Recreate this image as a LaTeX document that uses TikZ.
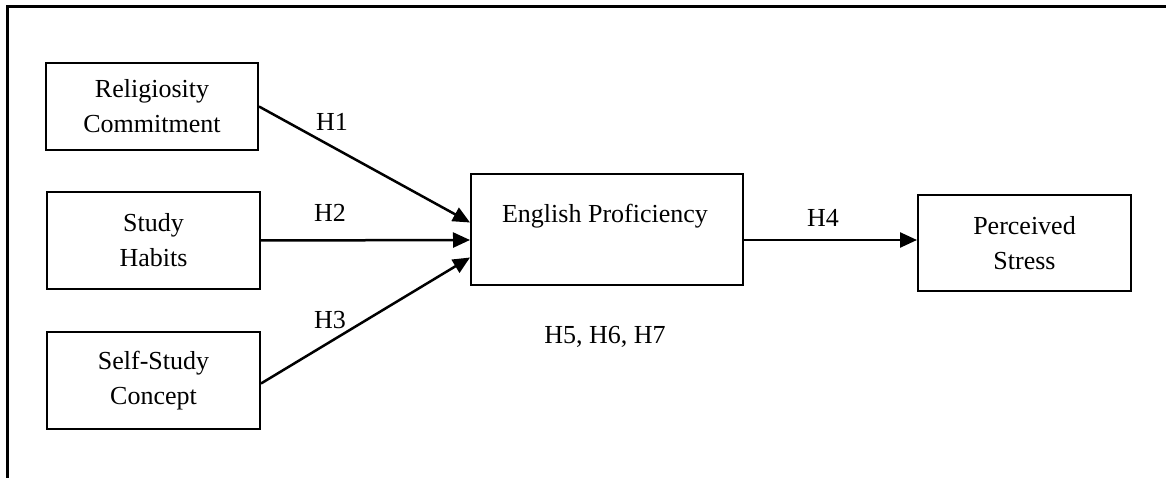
\documentclass[tikz,border=0pt]{standalone}
\usepackage{fontspec}
\setmainfont{Liberation Serif}
\usetikzlibrary{arrows.meta,calc}
\begin{document}
\begin{tikzpicture}[x=1pt,y=-1pt,
  box/.style={draw, line width=2pt, inner sep=0pt, align=center, font=\fontsize{26}{35}\selectfont},
  lbl/.style={inner sep=0pt, font=\fontsize{26}{35}\selectfont},
  conn/.style={line width=2.5pt, -{Triangle[length=17pt,width=15pt]}},
  frameline/.style={line width=3pt}]
\useasboundingbox (0,0) rectangle (1166,478);
\coordinate (ftop) at (1166,6.5);
\coordinate (fcorner) at (7,6.5);
\coordinate (fbot) at (7,478);
\draw[frameline] (ftop) -- (fcorner) -- (fbot);
\node[box, minimum width=212, minimum height=87] (rc) at (152,106.5) {Religiosity\\Commitment};
\node[box, minimum width=213, minimum height=97] (sh) at (153.5,240.5) {Study\\Habits};
\node[box, minimum width=213, minimum height=97] (ssc) at (153.5,380.5) {Self-Study\\Concept};
\node[box, minimum width=272, minimum height=111] (ep) at (607,229.5) {};
\node[lbl] (eptxt) at (605,216) {English Proficiency};
\node[box, minimum width=213, minimum height=96] (ps) at (1024.5,243) {Perceived\\Stress};
\draw[conn] (rc.east) -- ($(ep.west)+(0,-7)$);
\draw[conn] (sh.east) -- ($(ep.west)+(0,10.5)$);
\draw[conn] ($(ssc.east)+(0,3)$) -- ($(ep.west)+(0,28)$);
\draw[conn] ($(ep.east)+(0,10.5)$) -- ($(ps.west)+(0,-3)$);
\node[lbl] (h1) at (332,122) {H1};
\node[lbl] (h2) at (330,213) {H2};
\node[lbl] (h3) at (330,320) {H3};
\node[lbl] (h4) at (823,218) {H4};
\node[lbl] (h567) at (605,337) {H5, H6, H7};
\end{tikzpicture}
\end{document}
